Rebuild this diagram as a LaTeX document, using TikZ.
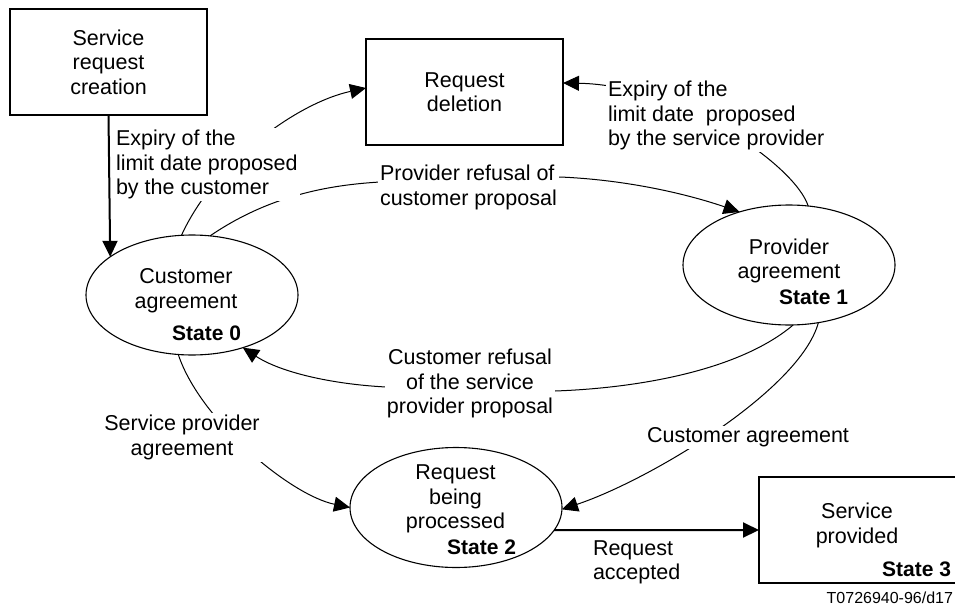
\documentclass[tikz,border=0pt]{standalone}
\usepackage{fontspec}
\setmainfont{Liberation Sans}
\usetikzlibrary{arrows.meta,shapes.geometric}
\begin{document}
\begin{tikzpicture}[x=1pt,y=-1pt,
  every node/.style={font=\fontsize{21.5}{24.5}\selectfont, inner sep=0pt, outer sep=0pt},
  box/.style={draw, line width=1.2pt, minimum width=197pt, minimum height=106pt, align=center},
  statebox/.style={draw, ellipse, line width=1.1pt, minimum width=212pt, minimum height=120pt},
  txt/.style={align=center},
  lab/.style={fill=white, inner sep=2pt},
  conn/.style={line width=1pt, -{Triangle[length=16pt,width=15pt]}},
  thickconn/.style={line width=2pt, -{Triangle[length=16pt,width=15pt]}},
  stlab/.style={font=\bfseries\fontsize{21}{24}\selectfont, anchor=base east}
]
\useasboundingbox (0,0) rectangle (955,607);

% boxes
\node[box] (src) at (108.5,62) {Service\\request\\creation};
\node[box] (rd) at (464.5,92) {Request\\deletion};
\node[draw, line width=1.2pt, minimum width=211pt, minimum height=106pt] (sp) at (864.5,530) {};
\node[txt] (sptxt) at (857,525.5) {Service\\provided};
\node[stlab] (st3) at (951,576.7) {State 3};

% states
\node[statebox] (ca) at (192,295) {};
\node[txt] (catxt) at (186,290.75) {Customer\\agreement};
\node[stlab] (st0) at (241,340.7) {State 0};

\node[statebox] (pa) at (789,265) {};
\node[txt] (patxt) at (789,260.75) {Provider\\agreement};
\node[stlab] (st1) at (848,304.7) {State 1};

\node[statebox] (rp) at (456,507.5) {};
\node[txt] (rptxt) at (455.5,499.25) {Request\\being\\processed};
\node[stlab] (st2) at (516,554.7) {State 2};

% connectors
\draw[thickconn] (src.south) -- (ca.155.8);
\draw[conn] (ca.100.6) .. controls (215,162) and (297,103) .. ([yshift=4pt]rd.west);
\draw[conn] (pa.72.4) .. controls (795,165) and (680,85) .. ([yshift=9pt]rd.east);
\draw[conn] (ca.73.9) .. controls (270,195) and (330,185) .. (380,182)
  -- (560,177) .. controls (630,180) and (690,195) .. (pa.133.9);
\draw[conn] (pa.-86.2) .. controls (740,370) and (640,388) .. (555,391)
  -- (386,387) .. controls (330,384) and (280,372) .. (ca.-46.6);
\draw[conn] (ca.257.1) .. controls (200,420) and (290,495) .. (rp.west);
\draw[conn] (pa.-63) .. controls (800,390) and (650,480) .. (rp.-1.6);
\draw[thickconn] (rp.-13.2) -- (sp.west);

% labels
\node[lab, align=left, anchor=west] (l1) at (114,164.75) {Expiry of the\\limit date proposed\\by the customer};
\node[lab, align=left, anchor=west] (l2) at (606,115.75) {Expiry of the\\limit date~~proposed\\by the service provider};
\node[lab, align=left, anchor=west] (l3) at (378,187.25) {Provider refusal of\\customer proposal};
\node[lab, align=center] (l4) at (470,383.75) {Customer refusal\\of the service\\provider proposal};
\node[lab, align=center] (l5) at (182,437.25) {Service provider\\agreement};
\node[lab] (l6) at (748,437.25) {Customer agreement};
\node[lab, align=left, anchor=west] (l7) at (591,562.25) {Request\\accepted};

\node[font=\fontsize{16}{19}\selectfont, anchor=base east] (ref) at (953,603.7) {T0726940-96/d17};
\end{tikzpicture}
\end{document}
